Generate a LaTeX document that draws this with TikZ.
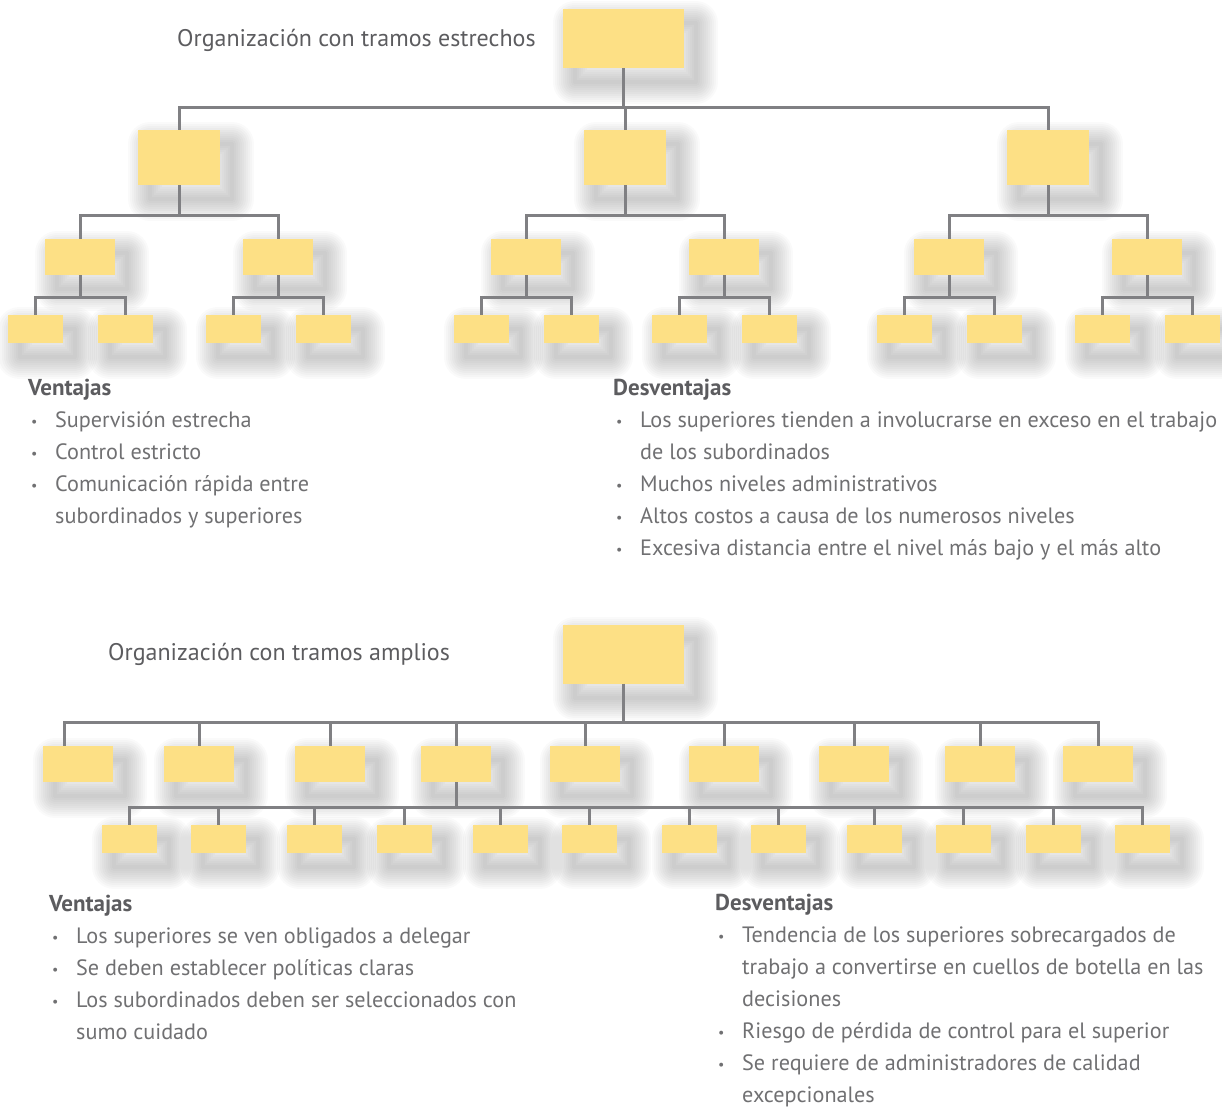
\documentclass[tikz,border=0pt]{standalone}
\usepackage{fontspec}
\setmainfont{PT Sans}
\usetikzlibrary{positioning}
\definecolor{boxfill}{RGB}{253,224,133}
\definecolor{linegray}{RGB}{128,128,131}
\definecolor{txtgray}{RGB}{112,112,114}
\definecolor{headgray}{RGB}{92,92,95}
\newcommand\bul[1]{\makebox[27pt][l]{\hspace{3pt}\raisebox{1pt}{\fontsize{14}{14}\selectfont\textbullet}}#1}
\newcommand\cont[1]{\hspace*{27pt}#1}
\newcommand\headfont{\color{headgray}\fontsize{23}{32}\selectfont\bfseries}

\begin{document}
\begin{tikzpicture}[x=1pt,y=-1pt,
    link/.style={draw=linegray,line width=3pt},
    softshadow/.style={preaction={draw=black,line width=#1,opacity=.018,line join=round,
        transform canvas={shift={(12pt,-14pt)}}}},
    orgbox/.style={fill=boxfill,inner sep=0pt,
        softshadow=4pt,softshadow=8pt,softshadow=12pt,softshadow=16pt,softshadow=20pt,
        softshadow=24pt,softshadow=28pt,softshadow=32pt,softshadow=36pt,softshadow=40pt,
        softshadow=44pt},
    rootbox/.style={orgbox,minimum width=121pt,minimum height=59pt},
    midbox/.style={orgbox,minimum width=82pt,minimum height=55pt},
    smallbox/.style={orgbox,minimum width=70pt,minimum height=36pt},
    tinybox/.style={orgbox,minimum width=55pt,minimum height=28pt},
    ttl/.style={font=\fontsize{24}{28}\selectfont,text=headgray,anchor=base west,inner sep=0pt},
    lst/.style={font=\fontsize{22.2}{32}\selectfont,text=txtgray,align=left,anchor=base west,inner sep=0pt}]
\useasboundingbox (0,0) rectangle (1222,1108);
% ===== narrow spans =====
\node[ttl] (ttop) at (177,46) {Organización con tramos estrechos};
\node[rootbox] (nroot) at (623,38.5) {};
\coordinate (nbusA) at (0,107);
\coordinate (nbusB) at (0,215);
\coordinate (nbusC) at (0,297);
\foreach \nm/\cx in {a/179,b/625,c/1048}{
  \node[midbox] (\nm) at (\cx,157.5) {};
  \foreach \i/\dx in {1/-99,2/99}{
    \node[smallbox] (\nm\i) at (\cx+\dx,257) {};
    \foreach \j/\ddx in {1/-45,2/45}
      \node[tinybox] (\nm\i\j) at (\cx+\dx+\ddx,329) {};
  }
}
\draw[link] (nroot.south) -- (nroot.south |- nbusA);
\draw[link] (a.north) -- (a.north |- nbusA) -- (c.north |- nbusA) -- (c.north);
\draw[link] (b.north) -- (b.north |- nbusA);
\foreach \nm in {a,b,c}{
  \draw[link] (\nm.south) -- (\nm.south |- nbusB);
  \draw[link] (\nm1.north) -- (\nm1.north |- nbusB) -- (\nm2.north |- nbusB) -- (\nm2.north);
  \foreach \i in {1,2}{
    \draw[link] (\nm\i.south) -- (\nm\i.south |- nbusC);
    \draw[link] (\nm\i1.north) -- (\nm\i1.north |- nbusC) -- (\nm\i2.north |- nbusC) -- (\nm\i2.north);
  }
}
% anchor is the baseline of the last line
\node[lst] (vtop) at (28,523) {{\headfont Ventajas}\\
  \bul{Supervisión estrecha}\\
  \bul{Control estricto}\\
  \bul{Comunicación rápida entre}\\
  \cont{subordinados y superiores}};
\node[lst] (dtop) at (613,555) {{\headfont Desventajas}\\
  \bul{Los superiores tienden a involucrarse en exceso en el trabajo}\\
  \cont{de los subordinados}\\
  \bul{Muchos niveles administrativos}\\
  \bul{Altos costos a causa de los numerosos niveles}\\
  \bul{Excesiva distancia entre el nivel más bajo y el más alto}};
% ===== wide spans =====
\node[ttl] (tbot) at (108,660) {Organización con tramos amplios};
\node[rootbox] (wroot) at (623,654) {};
\coordinate (wbusA) at (0,722);
\coordinate (wbusB) at (0,807);
\foreach \i/\cx in {1/78,2/199,3/330,4/456,5/585,6/724,7/854,8/980,9/1098}
  \node[smallbox] (w\i) at (\cx,764) {};
\foreach \i/\cx in {1/129.5,2/218.5,3/314.5,4/404.5,5/500.5,6/589.5,7/689.5,8/778.5,9/874.5,10/963.5,11/1053.5,12/1142.5}
  \node[tinybox] (v\i) at (\cx,839) {};
\coordinate (w1top) at ([xshift=-14pt]w1.north);
\draw[link] (wroot.south) -- (wroot.south |- wbusA);
\draw[link] (w1top) -- (w1top |- wbusA) -- (w9.north |- wbusA) -- (w9.north);
\foreach \i in {2,...,8}
  \draw[link] (w\i.north) -- (w\i.north |- wbusA);
\draw[link] (w4.south) -- (w4.south |- wbusB);
\draw[link] (v1.north) -- (v1.north |- wbusB) -- (v12.north |- wbusB) -- (v12.north);
\foreach \i in {2,...,11}
  \draw[link] (v\i.north) -- (v\i.north |- wbusB);
\node[lst] (vbot) at (49,1039) {{\headfont Ventajas}\\
  \bul{Los superiores se ven obligados a delegar}\\
  \bul{Se deben establecer políticas claras}\\
  \bul{Los subordinados deben ser seleccionados con}\\
  \cont{sumo cuidado}};
\node[lst] (dbot) at (715,1102) {{\headfont Desventajas}\\
  \bul{Tendencia de los superiores sobrecargados de}\\
  \cont{trabajo a convertirse en cuellos de botella en las}\\
  \cont{decisiones}\\
  \bul{Riesgo de pérdida de control para el superior}\\
  \bul{Se requiere de administradores de calidad}\\
  \cont{excepcionales}};
\end{tikzpicture}
\end{document}
